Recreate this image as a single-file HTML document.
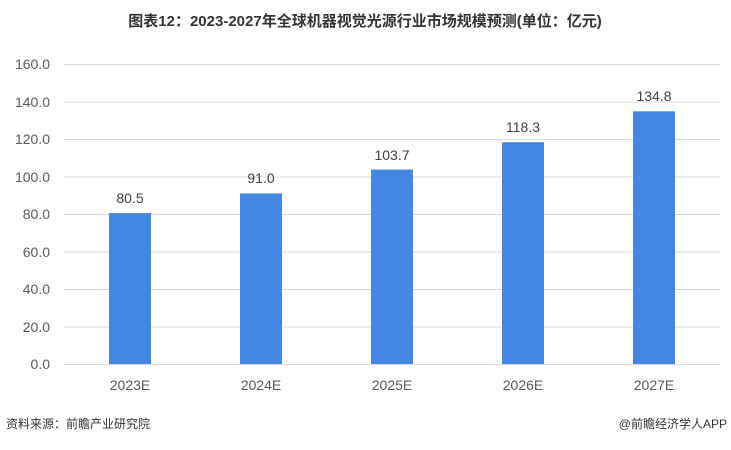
<!DOCTYPE html>
<html><head><meta charset="utf-8"><style>
body{margin:0;background:#fff;}
svg text{font-family:"Liberation Sans","Noto Sans CJK SC",sans-serif;}
</style></head><body>
<svg width="731" height="445" xmlns="http://www.w3.org/2000/svg">
<text x="365" y="26" text-anchor="middle" font-size="15" font-weight="bold" fill="#333">图表12：2023-2027年全球机器视觉光源行业市场规模预测(单位：亿元)</text>
<g stroke="#d9d9d9" stroke-width="1">
<line x1="64" x2="720" y1="64.5" y2="64.5"/>
<line x1="64" x2="720" y1="102" y2="102"/>
<line x1="64" x2="720" y1="139.5" y2="139.5"/>
<line x1="64" x2="720" y1="177" y2="177"/>
<line x1="64" x2="720" y1="214.5" y2="214.5"/>
<line x1="64" x2="720" y1="252" y2="252"/>
<line x1="64" x2="720" y1="289.5" y2="289.5"/>
<line x1="64" x2="720" y1="327" y2="327"/>
<line x1="64" x2="720" y1="364.5" y2="364.5"/>
</g>
<g font-size="14" fill="#595959" text-anchor="end">
<text x="50" y="69">160.0</text><text x="50" y="107">140.0</text><text x="50" y="144">120.0</text>
<text x="50" y="182">100.0</text><text x="50" y="219">80.0</text><text x="50" y="257">60.0</text>
<text x="50" y="294">40.0</text><text x="50" y="332">20.0</text><text x="50" y="369">0.0</text>
</g>
<g fill="#4187e3">
<rect x="109" y="213.1" width="42" height="150.9"/>
<rect x="240" y="193.4" width="42" height="170.6"/>
<rect x="371" y="169.6" width="42" height="194.4"/>
<rect x="502" y="142.2" width="42" height="221.8"/>
<rect x="633" y="111.3" width="42" height="252.7"/>
</g>
<g font-size="14" fill="#404040" text-anchor="middle">
<text x="130" y="203">80.5</text><text x="261" y="183">91.0</text><text x="392" y="160">103.7</text>
<text x="523" y="132">118.3</text><text x="654" y="101">134.8</text>
</g>
<g font-size="14" fill="#595959" text-anchor="middle">
<text x="130" y="390">2023E</text><text x="261" y="390">2024E</text><text x="392" y="390">2025E</text>
<text x="523" y="390">2026E</text><text x="654" y="390">2027E</text>
</g>
<text x="6" y="428" font-size="12" fill="#333">资料来源：前瞻产业研究院</text>
<text x="727" y="428" font-size="12" fill="#333" text-anchor="end">@前瞻经济学人APP</text>
</svg>
</body></html>
